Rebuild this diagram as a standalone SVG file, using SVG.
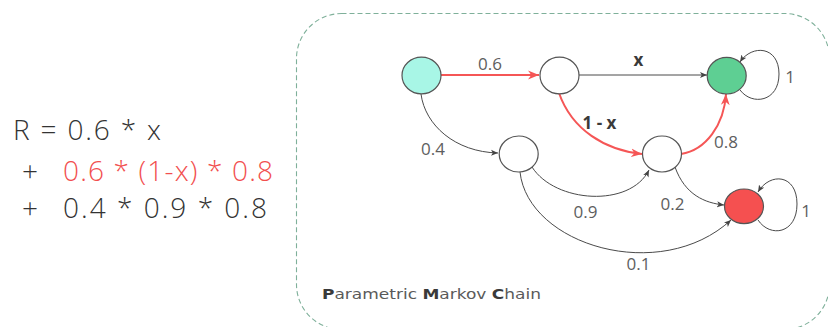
<svg xmlns="http://www.w3.org/2000/svg" width="828" height="327" viewBox="0 0 828 327">
  <style>
    .txt { font-family: "Open Sans", "Liberation Sans", sans-serif; }
    .formula { font-size: 28px; fill: #333333; font-weight: 300; }
    .formula-red { fill: #f24f4f; }
    .node { stroke: #555; stroke-width: 1.2; }
    .edge { fill: none; stroke: #4a4a4a; stroke-width: 1; }
    .edge-red { fill: none; stroke: #f55656; stroke-width: 2; }
    .lbl { font-size: 17px; fill: #5e5e5e; text-anchor: middle; }
    .lbl-bold { font-size: 17px; fill: #3a3a3a; font-weight: bold; text-anchor: middle; }
    .cap { font-family: "DejaVu Sans", "Liberation Sans", sans-serif; font-size: 14px; fill: #5a5a5a; }
    .cap-b { font-weight: bold; fill: #3a3a3a; }
  </style>
  <defs>
    <marker id="arrK" viewBox="0 0 8 8" refX="8" refY="4" markerWidth="7" markerHeight="7" markerUnits="userSpaceOnUse" orient="auto">
      <path d="M0,0.6 L8,4 L0,7.4 L2,4 Z" fill="#444"/>
    </marker>
    <marker id="arrR" viewBox="0 0 10 10" refX="10" refY="5" markerWidth="11" markerHeight="11" markerUnits="userSpaceOnUse" orient="auto">
      <path d="M0,1 L10,5 L0,9 L3,5 Z" fill="#f55656"/>
    </marker>
  </defs>

  <!-- reward formula -->
  <g id="formula" class="txt">
    <text class="formula" x="13" y="140" textLength="148">R = 0.6 * x</text>
    <text class="formula" x="30" y="181" text-anchor="middle">+</text>
    <text class="formula formula-red" x="63" y="181" textLength="210">0.6 * (1-x) * 0.8</text>
    <text class="formula" x="30" y="218" text-anchor="middle">+</text>
    <text class="formula" x="63" y="218" textLength="204">0.4 * 0.9 * 0.8</text>
  </g>

  <!-- dashed frame of the chain -->
  <rect id="frame" x="296.5" y="13.5" width="533" height="316" rx="45" ry="45" fill="none" stroke="#7fb09a" stroke-width="1.1" stroke-dasharray="5 3"/>

  <!-- connectors -->
  <g id="connectors">
    <path class="edge-red" d="M441,75 L539,75" marker-end="url(#arrR)"/>
    <path class="edge" d="M579,75 L707,75" marker-end="url(#arrK)"/>
    <path class="edge-red" d="M559,93 C 572,130 605,150 642,154" marker-end="url(#arrR)"/>
    <path class="edge-red" d="M681,154 C 706,150 724,125 726,94" marker-end="url(#arrR)"/>
    <path class="edge" d="M421,94 C 425,125 455,152 498,153" marker-end="url(#arrK)"/>
    <path class="edge" d="M532,167 C 555,203 630,208 649,170" marker-end="url(#arrK)"/>
    <path class="edge" d="M520,172 C 528,245 660,285 731,220" marker-end="url(#arrK)"/>
    <path class="edge" d="M675,167 C 685,195 705,203 724,205" marker-end="url(#arrK)"/>
    <path class="edge" d="M740,90 C 752,106 779,102 779,74 C 779,46 752,44 740,62" marker-end="url(#arrK)"/>
    <path class="edge" d="M758,220 C 770,238 797,234 797,204 C 797,174 770,172 758,192" marker-end="url(#arrK)"/>
  </g>

  <!-- connector labels -->
  <g id="labels" class="txt">
    <text class="lbl" x="490" y="70">0.6</text>
    <text class="lbl-bold" x="638.5" y="66">x</text>
    <text class="lbl-bold" x="599.5" y="129">1 - x</text>
    <text class="lbl" x="726" y="147.5">0.8</text>
    <text class="lbl" x="433" y="155">0.4</text>
    <text class="lbl" x="585.5" y="218">0.9</text>
    <text class="lbl" x="672.5" y="209.5">0.2</text>
    <text class="lbl" x="638.5" y="269.5">0.1</text>
    <text class="lbl" x="790" y="83">1</text>
    <text class="lbl" x="806" y="217">1</text>
  </g>

  <!-- states -->
  <g id="start"><ellipse class="node" cx="421.5" cy="75.5" rx="19.5" ry="18.3" fill="#a8f6e6"/></g>
  <g id="s1"><ellipse class="node" cx="559.5" cy="75.5" rx="19.5" ry="18.3" fill="#ffffff"/></g>
  <g id="goal"><ellipse class="node" cx="726.7" cy="75.7" rx="19.5" ry="18.3" fill="#5ecf93"/></g>
  <g id="s2"><ellipse class="node" cx="518.7" cy="154" rx="19.5" ry="18" fill="#ffffff"/></g>
  <g id="s3"><ellipse class="node" cx="662" cy="154" rx="19.5" ry="18" fill="#ffffff"/></g>
  <g id="fail"><ellipse class="node" cx="744" cy="206.3" rx="19.5" ry="17.3" fill="#f55050"/></g>

  <!-- caption -->
  <g id="caption">
    <text class="cap" x="322" y="298.5" textLength="219" lengthAdjust="spacingAndGlyphs"><tspan class="cap-b">P</tspan>arametric <tspan class="cap-b">M</tspan>arkov <tspan class="cap-b">C</tspan>hain</text>
  </g>
</svg>
